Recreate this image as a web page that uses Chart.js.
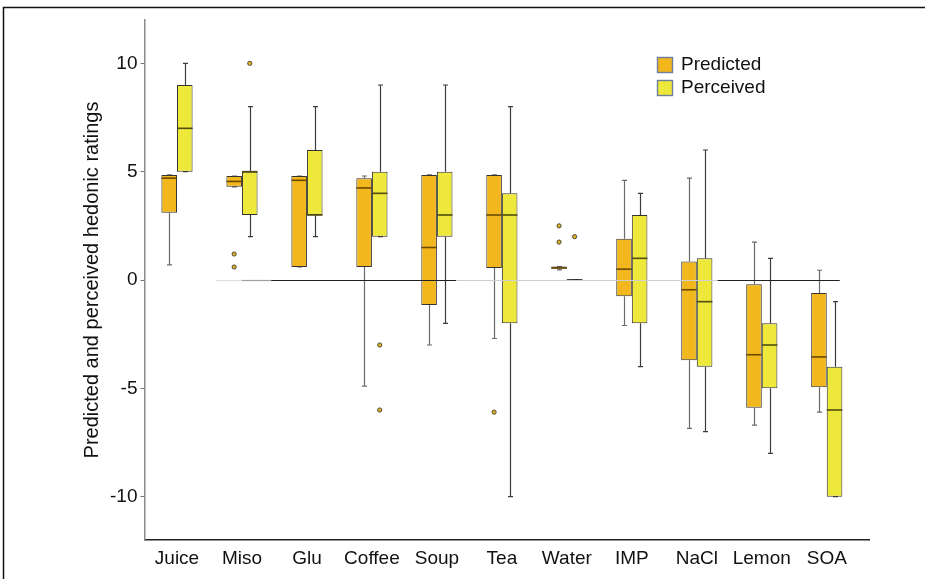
<!DOCTYPE html>
<html>
<head>
<meta charset="utf-8">
<script src="https://cdn.jsdelivr.net/npm/chart.js@4/dist/chart.umd.min.js"></script>
<style>
  html, body { margin: 0; padding: 0; background: #fff; }
  #wrap { position: relative; width: 925px; height: 579px; }
</style>
</head>
<body>
<div id="wrap"><canvas id="c" width="925" height="579"></canvas></div>
<script>
const categories = ['Juice', 'Miso', 'Glu', 'Coffee', 'Soup', 'Tea', 'Water', 'IMP', 'NaCl', 'Lemon', 'SOA'];
const yTicks = [-10, -5, 0, 5, 10];
const seriesNames = ['Predicted', 'Perceived'];

const predictedMin    = [0.7, 4.3, 0.6, -4.9, -3.0, -2.7, 0.47, -2.1, -6.85, -6.7, -6.1];
const predictedQ1     = [3.1, 4.3, 0.6, 0.6, -1.15, 0.55, 0.52, -0.75, -3.7, -5.9, -4.95];
const predictedMedian = [4.7, 4.55, 4.6, 4.25, 1.5, 3.0, 0.56, 0.5, -0.45, -3.45, -3.55];
const predictedQ3     = [4.85, 4.8, 4.8, 4.7, 4.85, 4.85, 0.62, 1.9, 0.85, -0.2, -0.6];
const predictedMax    = [4.85, 4.8, 4.8, 4.8, 4.85, 4.85, 0.62, 4.6, 4.7, 1.75, 0.45];
const predictedOutliers = [[], [1.2, 0.6], [], [], [], [-6.1], [2.5, 1.75], [], [], [], []];

const perceivedMin    = [5, 2, 2, 2, -2, -10, 0, -4, -7, -8, -10];
const perceivedQ1     = [5, 3, 3, 2, 2, -2, 0, -2, -4, -5, -10];
const perceivedMedian = [7, 5, 3, 4, 3, 3, 0, 1, -1, -3, -6];
const perceivedQ3     = [9, 5, 6, 5, 5, 4, 0, 3, 1, -2, -4];
const perceivedMax    = [10, 8, 8, 9, 9, 8, 0, 4, 6, 1, -1];
const perceivedOutliers = [[], [10], [], [-3, -6], [], [], [2], [], [], [], []];

// reference line at zero, drawn in pieces (x in category units)
const zeroLineFrom = [0.6, 1.0, 1.45, 4.3, 8.32];
const zeroLineTo   = [1.0, 1.45, 4.3, 8.32, 10.2];

const stats = [
  { min: predictedMin, q1: predictedQ1, med: predictedMedian, q3: predictedQ3, max: predictedMax, out: predictedOutliers },
  { min: perceivedMin, q1: perceivedQ1, med: perceivedMedian, q3: perceivedQ3, max: perceivedMax, out: perceivedOutliers }
];
const fills = ['#F2B71C', '#EEE83A'];
const medianColors = ['#6b4a00', '#4f4d10'];
const whiskerColors = ['#6a6a6a', '#3c3c3c'];
const zeroColors = ['#dedede', '#a0a0a0', '#222222', '#cfcfcf', '#222222'];
const FONT = '"Liberation Sans", Arial, sans-serif';

const boxPlugin = {
  id: 'boxExtras',
  beforeDraw(chart) {
    const ctx = chart.ctx;
    ctx.save();
    ctx.strokeStyle = '#111';
    ctx.lineWidth = 1.5;
    ctx.beginPath();
    ctx.moveTo(3.5, chart.height);
    ctx.lineTo(3.5, 7.5);
    ctx.lineTo(chart.width, 7.5);
    ctx.stroke();
    ctx.restore();
  },
  beforeDatasetsDraw(chart) {
    const ctx = chart.ctx, y = chart.scales.y;
    ctx.save();
    chart.data.datasets.forEach((ds, d) => {
      const meta = chart.getDatasetMeta(d);
      const s = stats[d];
      ctx.strokeStyle = whiskerColors[d];
      ctx.lineWidth = 1.2;
      meta.data.forEach((bar, i) => {
        const cx = Math.round(bar.x) + 0.5;
        const yMin = y.getPixelForValue(s.min[i]);
        const yQ1 = y.getPixelForValue(s.q1[i]);
        const yQ3 = y.getPixelForValue(s.q3[i]);
        const yMax = y.getPixelForValue(s.max[i]);
        ctx.beginPath();
        if (yMin > yQ1 + 0.5) { ctx.moveTo(cx, yQ1); ctx.lineTo(cx, yMin); }
        if (yMax < yQ3 - 0.5) { ctx.moveTo(cx, yQ3); ctx.lineTo(cx, yMax); }
        ctx.moveTo(cx - 2.5, yMin); ctx.lineTo(cx + 2.5, yMin);
        ctx.moveTo(cx - 2.5, yMax); ctx.lineTo(cx + 2.5, yMax);
        ctx.stroke();
      });
    });
    ctx.restore();
  },
  afterDatasetsDraw(chart) {
    const ctx = chart.ctx, x = chart.scales.x, y = chart.scales.y;
    ctx.save();
    chart.data.datasets.forEach((ds, d) => {
      const meta = chart.getDatasetMeta(d);
      const s = stats[d];
      meta.data.forEach((bar, i) => {
        const half = bar.width / 2;
        const ym = y.getPixelForValue(s.med[i]);
        ctx.strokeStyle = (s.q1[i] === s.q3[i]) ? '#111' : medianColors[d];
        ctx.lineWidth = 1.6;
        ctx.beginPath();
        ctx.moveTo(bar.x - half, ym);
        ctx.lineTo(bar.x + half, ym);
        ctx.stroke();
        s.out[i].forEach(v => {
          ctx.beginPath();
          ctx.arc(bar.x, y.getPixelForValue(v), 2.1, 0, Math.PI * 2);
          ctx.fillStyle = '#e2b21e';
          ctx.fill();
          ctx.lineWidth = 1;
          ctx.strokeStyle = '#4a4a3a';
          ctx.stroke();
        });
      });
    });
    // zero reference line
    const y0 = Math.round(y.getPixelForValue(0)) + 0.5;
    ctx.lineWidth = 1.2;
    zeroLineFrom.forEach((from, k) => {
      ctx.strokeStyle = zeroColors[k];
      ctx.beginPath();
      ctx.moveTo(x.getPixelForValue(from), y0);
      ctx.lineTo(x.getPixelForValue(zeroLineTo[k]), y0);
      ctx.stroke();
    });
    // legend
    const lx = 657, ly = 57, gap = 23;
    ctx.font = '19px ' + FONT;
    ctx.textBaseline = 'middle';
    ctx.textAlign = 'left';
    chart.data.datasets.forEach((ds, d) => {
      const top = ly + d * gap;
      ctx.fillStyle = ds.backgroundColor;
      ctx.fillRect(lx, top, 16, 16);
      ctx.strokeStyle = '#6d7f9c';
      ctx.lineWidth = 1.4;
      ctx.strokeRect(lx + 0.5, top + 0.5, 15, 15);
      ctx.fillStyle = '#111';
      ctx.fillText(ds.label, lx + 24, top + 8);
    });
    ctx.restore();
  }
};

const datasets = stats.map((s, d) => ({
  label: seriesNames[d],
  data: categories.map((c, i) => ({ x: i, y: [s.q1[i], s.q3[i]] })),
  backgroundColor: fills[d],
  borderColor: '#333',
  borderWidth: 1,
  borderSkipped: false,
  categoryPercentage: 0.48,
  barPercentage: 1.0
}));

new Chart(document.getElementById('c'), {
  type: 'bar',
  data: { datasets },
  plugins: [boxPlugin],
  options: {
    responsive: false,
    animation: false,
    layout: { padding: { top: 20, right: 56, left: 0, bottom: 0 } },
    plugins: { legend: { display: false }, tooltip: { enabled: false } },
    scales: {
      x: {
        type: 'linear',
        offset: false,
        min: -0.5,
        max: 10.65,
        afterBuildTicks: (scale) => { scale.ticks = categories.map((c, i) => ({ value: i })); },
        afterFit: (scale) => { scale.height = 39; },
        grid: { display: false, drawTicks: false },
        border: { display: true, color: '#222', width: 1.5 },
        ticks: {
          autoSkip: false, maxRotation: 0, padding: 7,
          color: '#111', font: { family: FONT, size: 19 },
          callback: (v) => categories[v]
        }
      },
      y: {
        min: -12,
        max: 12,
        afterBuildTicks: (scale) => { scale.ticks = yTicks.map(v => ({ value: v })); },
        afterFit: (scale) => { scale.width = 144.5; },
        grid: { display: true, drawOnChartArea: false, drawTicks: true, tickLength: 4, color: '#777' },
        border: { display: true, color: '#8a8a8a', width: 1.5 },
        ticks: {
          padding: 3, color: '#111', font: { family: FONT, size: 19 },
          callback: (v) => String(v)
        },
        title: {
          display: true,
          text: 'Predicted and perceived hedonic ratings',
          color: '#111',
          font: { family: FONT, size: 20 },
          padding: { top: 80, bottom: 0 }
        }
      }
    }
  }
});
</script>
</body>
</html>
